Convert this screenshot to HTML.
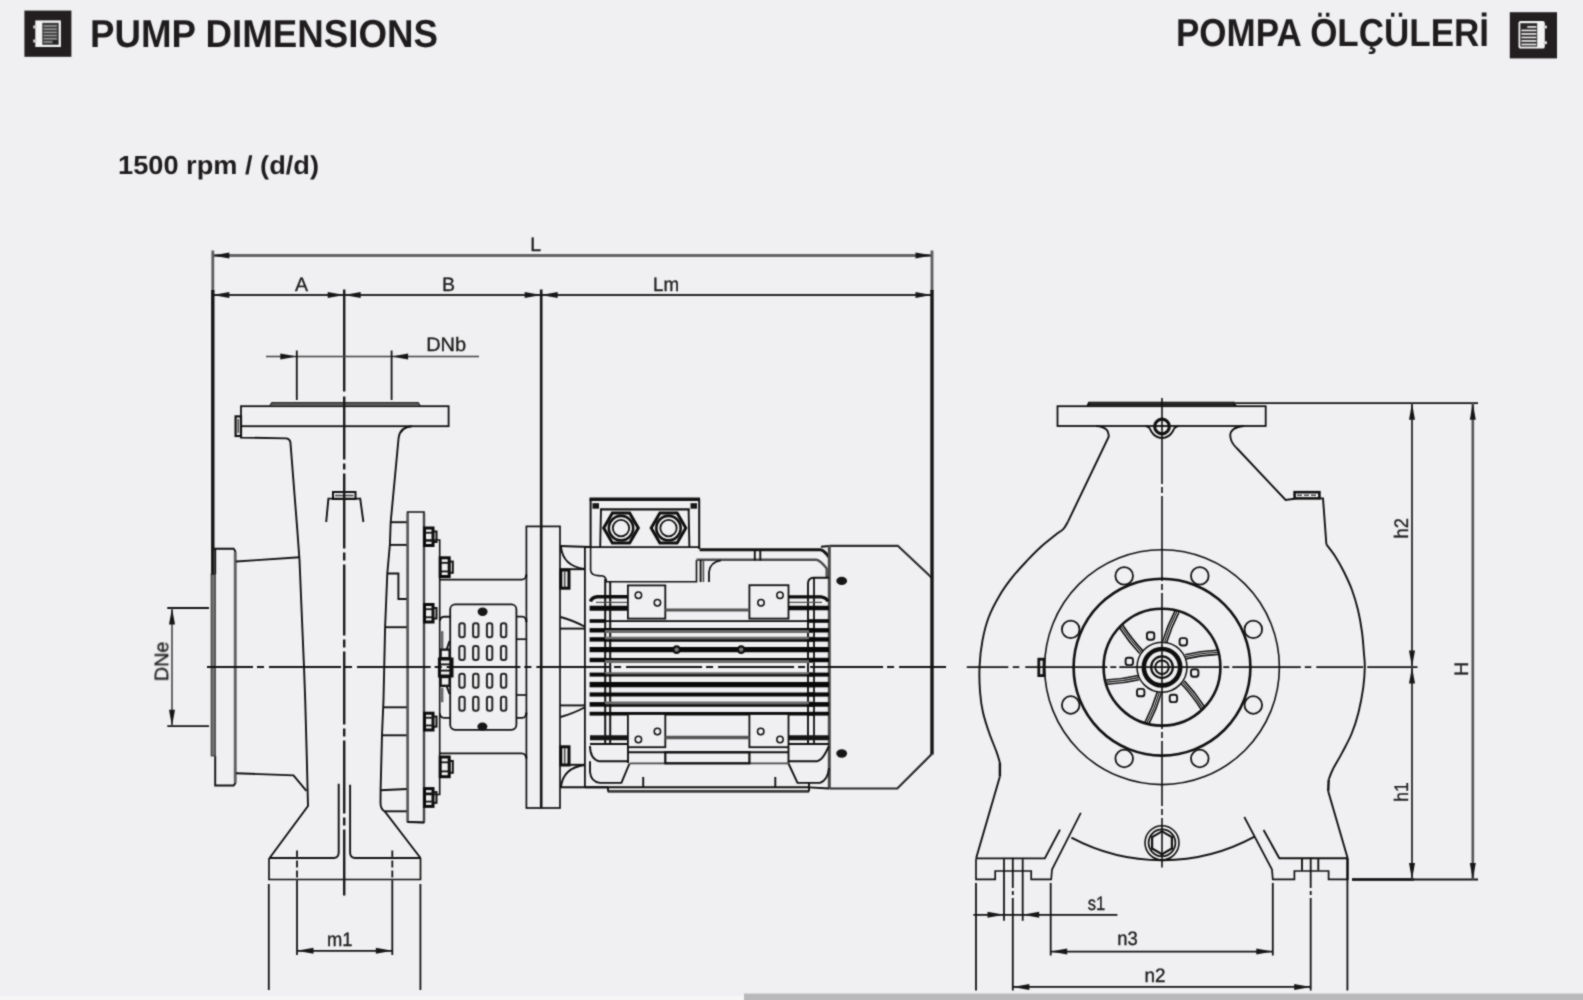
<!DOCTYPE html>
<html><head><meta charset="utf-8"><title>Pump Dimensions</title>
<style>
html,body{margin:0;padding:0;background:#f0f0f2;}
body{width:1583px;height:1000px;overflow:hidden;font-family:"Liberation Sans",sans-serif;}
svg{display:block;position:absolute;left:0;top:0;}
text{font-family:"Liberation Sans",sans-serif;fill:#1d1d1f;-webkit-font-smoothing:antialiased;text-rendering:geometricPrecision;}
.ttl{font-size:39px;font-weight:bold;fill:#1f1c1d;}
.sub{font-size:26px;font-weight:bold;fill:#1f1c1d;}
.lb{font-size:19.5px;fill:#1e1e1e;stroke:#1e1e1e;stroke-width:0.35;}
.t{fill:none;stroke:#101010;stroke-width:1.9;}
.g{fill:none;stroke:#4a4a4a;stroke-width:1.6;}
.g2{fill:none;stroke:#6a6a6a;stroke-width:2.6;}
.k{fill:none;stroke:#141414;stroke-width:2.8;}
.k2{fill:none;stroke:#141414;stroke-width:2.2;}
.d{fill:none;stroke:#121212;stroke-width:1.8;}
.cl{fill:none;stroke:#121212;stroke-width:1.8;}
.f{fill:#161616;stroke:none;}
</style></head>
<body>
<svg width="1583" height="1000" viewBox="0 0 1583 1000">
<defs><filter id="id0" x="0" y="0" width="100%" height="100%" filterUnits="userSpaceOnUse" color-interpolation-filters="sRGB"><feConvolveMatrix order="3" kernelMatrix="1 2 1 2 10 2 1 2 1" divisor="22" edgeMode="duplicate" preserveAlpha="false"/></filter></defs>
<g filter="url(#id0)"><rect x="24.4" y="10.6" width="47" height="46.2" fill="#231f20"/>
<rect x="35.3" y="20.4" width="25.6" height="26.6" fill="#f4f4f4"/>
<rect x="42.3" y="22.8" width="16.4" height="22" fill="#3c3a3b"/>
<rect x="43.6" y="25.2" width="13.2" height="1.5" fill="#9a9a9a"/>
<rect x="43.6" y="28.4" width="13.2" height="1.5" fill="#9a9a9a"/>
<rect x="43.6" y="31.6" width="13.2" height="1.5" fill="#9a9a9a"/>
<rect x="43.6" y="34.8" width="13.2" height="1.5" fill="#9a9a9a"/>
<rect x="43.6" y="38.0" width="13.2" height="1.5" fill="#9a9a9a"/>
<rect x="43.6" y="41.2" width="13.2" height="1.5" fill="#9a9a9a"/>
<rect x="52.5" y="40.3" width="5.5" height="3.6" fill="#222"/>
<rect x="33.2" y="25.5" width="3.4" height="3" fill="#d0d0d0"/>
<rect x="33.2" y="39.5" width="3.4" height="3" fill="#d0d0d0"/>
<rect x="1509.8" y="12.2" width="47.2" height="46.2" fill="#231f20"/>
<rect x="1518.5" y="21" width="26.3" height="27.6" rx="2.2" fill="#f4f4f4"/>
<rect x="1520.3" y="23.2" width="16.9" height="23.4" fill="#2b2829"/>
<rect x="1527.3" y="26.1" width="9.1" height="1.7" fill="#ececec"/>
<rect x="1521.4" y="29.6" width="15.0" height="1.7" fill="#ececec"/>
<rect x="1521.4" y="33.1" width="15.0" height="1.7" fill="#ececec"/>
<rect x="1521.4" y="36.6" width="15.0" height="1.7" fill="#ececec"/>
<rect x="1521.4" y="40.1" width="15.0" height="1.7" fill="#ececec"/>
<rect x="1521.4" y="43.6" width="15.0" height="1.7" fill="#ececec"/>
<rect x="1543.4" y="25.6" width="3.6" height="2.8" fill="#d8d8d8"/>
<rect x="1543.4" y="41.3" width="3.6" height="2.8" fill="#d8d8d8"/>
<text x="90" y="47.2" class="ttl" textLength="348" lengthAdjust="spacingAndGlyphs">PUMP DIMENSIONS</text>
<text x="1176" y="46" class="ttl" textLength="313" lengthAdjust="spacingAndGlyphs">POMPA ÖLÇÜLERİ</text>
<text x="118" y="174.3" class="sub" textLength="201" lengthAdjust="spacingAndGlyphs">1500 rpm / (d/d)</text>
<rect x="744" y="993.5" width="839" height="6.5" fill="#b9b9bb"/>
<rect x="0" y="996" width="744" height="4" fill="#f6f6f7"/></g>
<g id="pump" filter="url(#id0)"><rect x="241" y="406.2" width="207.6" height="20" class="t" style="stroke-width:1.8"/>
<path d="M270,406 L272,402.8 L418,402.8 L420,406" class="t" style="stroke-width:1.8;stroke:#2a2a2a"/>
<line x1="271" y1="404.6" x2="419" y2="404.6" class="g" style="stroke-width:1.6;stroke:#555"/>
<rect x="235.6" y="416.4" width="5.4" height="19.6" class="t" style="stroke-width:2.2"/>
<line x1="238.3" y1="419" x2="238.3" y2="433" class="g" />
<path d="M241,426.2 L241,437.6 L286,438.4 Q289.5,438.6 290.4,442" class="t" />
<path d="M290.4,442 L297.3,530 L299.5,560 L302,620 L304,667 L305.2,700 L306.6,750 L308,806 L269.6,858" class="t" />
<path d="M412,426.2 Q400,427 398.6,438 L390.7,522 L389.9,544.5 L387.3,573.5 L385.1,627 L383.5,700 L382,735 L380.6,790 L380.5,803 Q380.6,809 384.8,811.5 L420.5,858" class="t" />
<rect x="333" y="492" width="22.5" height="7" class="t" style="stroke-width:2"/>
<line x1="335" y1="495.5" x2="353.5" y2="495.5" class="g" />
<path d="M326.2,522 L328.4,498.6 L360.2,498.6 L363.4,522" class="t" />
<path d="M213,548.8 L233.6,548.8 L235.2,551 L235.2,783.4 L233.6,785.5 L215.2,785.5 L215.2,755.7" class="t" />
<line x1="235.2" y1="552" x2="235.2" y2="783" class="g2" style="stroke-width:2.8;stroke:#606060"/>
<rect x="211.4" y="574.3" width="3.8" height="181.4" class="t" style="stroke-width:1.5;stroke:#4a4a4a;fill:#777"/>
<line x1="215.2" y1="549" x2="215.2" y2="574" class="t" />
<line x1="236" y1="561.5" x2="299.5" y2="557.3" class="t" />
<path d="M236,773.2 L293.5,775.4 L306.4,790.8" class="t" />
<path d="M269,858 L333.5,858 Q338.7,858 338.7,852.5 L338.7,783.8" class="t" />
<path d="M420.5,858 L355.3,858 Q350.1,858 350.1,852.5 L350.1,784.7" class="t" />
<path d="M269,858 L269,879.5 L420.5,879.5 L420.5,858" class="t" style="stroke-width:1.7"/>
<line x1="390.7" y1="522.2" x2="407" y2="522.2" class="t" />
<line x1="389.9" y1="544.9" x2="407" y2="544.9" class="t" />
<line x1="385.1" y1="627.2" x2="407" y2="627.2" class="t" />
<line x1="383.3" y1="707.3" x2="407" y2="707.3" class="t" />
<line x1="382" y1="735.3" x2="407" y2="735.3" class="t" />
<line x1="384.6" y1="811.3" x2="407" y2="811.3" class="t" />
<line x1="380.6" y1="790.2" x2="407" y2="789" class="t" />
<path d="M387.3,573.5 L398.4,573.5 L398.4,599 L407,599" class="t" />
<path d="M407.6,822 L407.6,512 L424,512 L424,822.5 Z" class="t" style="stroke-width:1.6"/>
<line x1="407.6" y1="513" x2="407.6" y2="822" class="g2" style="stroke:#555;stroke-width:2.4"/>
<line x1="424" y1="513" x2="424" y2="822" class="g2" style="stroke:#444;stroke-width:2.4"/>
<path d="M407.6,822 L424,822.5" class="t" />
<path d="M424,540 L439.7,540 L439.7,794.5 L424,794.5" class="t" style="stroke-width:1.6"/>
<rect x="424.5" y="528" width="8.5" height="17.5" class="t" style="stroke-width:3;stroke:#0a0a0a"/><line x1="424.5" y1="532.725" x2="433.0" y2="532.725" class="t" style="stroke-width:1.8"/><line x1="424.5" y1="540.775" x2="433.0" y2="540.775" class="t" style="stroke-width:1.8"/><rect x="433.0" y="531.5" width="3.5" height="10.5" class="t" style="stroke-width:2"/>
<rect x="424.5" y="604.5" width="8.5" height="17.5" class="t" style="stroke-width:3;stroke:#0a0a0a"/><line x1="424.5" y1="609.225" x2="433.0" y2="609.225" class="t" style="stroke-width:1.8"/><line x1="424.5" y1="617.275" x2="433.0" y2="617.275" class="t" style="stroke-width:1.8"/><rect x="433.0" y="608.0" width="3.5" height="10.5" class="t" style="stroke-width:2"/>
<rect x="424.5" y="713.2" width="8.5" height="16.799999999999955" class="t" style="stroke-width:3;stroke:#0a0a0a"/><line x1="424.5" y1="717.736" x2="433.0" y2="717.736" class="t" style="stroke-width:1.8"/><line x1="424.5" y1="725.464" x2="433.0" y2="725.464" class="t" style="stroke-width:1.8"/><rect x="433.0" y="716.5600000000001" width="3.5" height="10.079999999999972" class="t" style="stroke-width:2"/>
<rect x="424.5" y="788.6" width="8.5" height="17.799999999999955" class="t" style="stroke-width:3;stroke:#0a0a0a"/><line x1="424.5" y1="793.4060000000001" x2="433.0" y2="793.4060000000001" class="t" style="stroke-width:1.8"/><line x1="424.5" y1="801.5939999999999" x2="433.0" y2="801.5939999999999" class="t" style="stroke-width:1.8"/><rect x="433.0" y="792.16" width="3.5" height="10.679999999999973" class="t" style="stroke-width:2"/>
<rect x="440.2" y="557.8" width="9" height="18.700000000000045" class="t" style="stroke-width:3;stroke:#0a0a0a"/><line x1="440.2" y1="562.8489999999999" x2="449.2" y2="562.8489999999999" class="t" style="stroke-width:1.8"/><line x1="440.2" y1="571.451" x2="449.2" y2="571.451" class="t" style="stroke-width:1.8"/><rect x="449.2" y="561.54" width="3.6" height="11.220000000000027" class="t" style="stroke-width:2"/>
<rect x="440.2" y="757" width="9" height="19.700000000000045" class="t" style="stroke-width:3;stroke:#0a0a0a"/><line x1="440.2" y1="762.319" x2="449.2" y2="762.319" class="t" style="stroke-width:1.8"/><line x1="440.2" y1="771.3810000000001" x2="449.2" y2="771.3810000000001" class="t" style="stroke-width:1.8"/><rect x="449.2" y="760.94" width="3.6" height="11.820000000000027" class="t" style="stroke-width:2"/>
<path d="M439.7,579.6 L521.5,579.6 Q526.2,579.4 526.4,574.5" class="t" style="stroke-width:1.7"/>
<path d="M439.7,753.4 L521.5,753.4 Q526.2,753.6 526.4,758.5" class="t" style="stroke-width:1.7"/>
<rect x="450.2" y="604.4" width="66.2" height="125.4" rx="5" ry="5" class="t" style="stroke-width:1.8"/>
<rect x="459.3" y="623.2" width="5.4" height="14" rx="2.2" ry="2.2" class="t" style="stroke-width:2;stroke:#222"/>
<rect x="473.1" y="623.2" width="5.4" height="14" rx="2.2" ry="2.2" class="t" style="stroke-width:2;stroke:#222"/>
<rect x="486.9" y="623.2" width="5.4" height="14" rx="2.2" ry="2.2" class="t" style="stroke-width:2;stroke:#222"/>
<rect x="500.9" y="623.2" width="5.4" height="14" rx="2.2" ry="2.2" class="t" style="stroke-width:2;stroke:#222"/>
<rect x="459.3" y="646.0" width="5.4" height="14" rx="2.2" ry="2.2" class="t" style="stroke-width:2;stroke:#222"/>
<rect x="473.1" y="646.0" width="5.4" height="14" rx="2.2" ry="2.2" class="t" style="stroke-width:2;stroke:#222"/>
<rect x="486.9" y="646.0" width="5.4" height="14" rx="2.2" ry="2.2" class="t" style="stroke-width:2;stroke:#222"/>
<rect x="500.9" y="646.0" width="5.4" height="14" rx="2.2" ry="2.2" class="t" style="stroke-width:2;stroke:#222"/>
<rect x="459.3" y="673.8" width="5.4" height="14" rx="2.2" ry="2.2" class="t" style="stroke-width:2;stroke:#222"/>
<rect x="473.1" y="673.8" width="5.4" height="14" rx="2.2" ry="2.2" class="t" style="stroke-width:2;stroke:#222"/>
<rect x="486.9" y="673.8" width="5.4" height="14" rx="2.2" ry="2.2" class="t" style="stroke-width:2;stroke:#222"/>
<rect x="500.9" y="673.8" width="5.4" height="14" rx="2.2" ry="2.2" class="t" style="stroke-width:2;stroke:#222"/>
<rect x="459.3" y="696.7" width="5.4" height="14" rx="2.2" ry="2.2" class="t" style="stroke-width:2;stroke:#222"/>
<rect x="473.1" y="696.7" width="5.4" height="14" rx="2.2" ry="2.2" class="t" style="stroke-width:2;stroke:#222"/>
<rect x="486.9" y="696.7" width="5.4" height="14" rx="2.2" ry="2.2" class="t" style="stroke-width:2;stroke:#222"/>
<rect x="500.9" y="696.7" width="5.4" height="14" rx="2.2" ry="2.2" class="t" style="stroke-width:2;stroke:#222"/>
<ellipse cx="482.6" cy="611.7" rx="5" ry="4.2" class="f"/>
<ellipse cx="482.4" cy="726.6" rx="5" ry="4.2" class="f"/>
<path d="M439.8,621 Q440,617 444,616.7 L450.2,616.7" class="t" />
<path d="M439.8,713.5 Q440,717.6 444,717.9 L450.2,717.9" class="t" />
<line x1="442.2" y1="631.2" x2="442.2" y2="648.6" class="g2" style="stroke:#666;stroke-width:2.4"/>
<line x1="442.2" y1="687.8" x2="442.2" y2="702.2" class="g2" style="stroke:#666;stroke-width:2.4"/>
<line x1="449.5" y1="641" x2="446.8" y2="649" class="t" />
<line x1="446.8" y1="686.5" x2="449.5" y2="694" class="t" />
<rect x="440.6" y="649.6" width="9" height="8.6" class="t" style="stroke-width:2.4;stroke:#151515"/>
<rect x="440.6" y="677" width="9" height="8.8" class="t" style="stroke-width:2.4;stroke:#151515"/>
<rect x="439.4" y="659" width="12.6" height="17" class="t" style="stroke-width:3;stroke:#0e0e0e"/>
<line x1="439.4" y1="664.4" x2="452" y2="664.4" class="t" />
<line x1="439.4" y1="670.6" x2="452" y2="670.6" class="t" />
<path d="M516.4,616.7 L522,616.7 Q526.4,617 526.4,622" class="t" style="stroke-width:1.7"/>
<line x1="516.4" y1="639.2" x2="526.4" y2="639.2" class="t" style="stroke-width:1.7"/>
<line x1="516.4" y1="695" x2="526.4" y2="695" class="t" style="stroke-width:1.7"/>
<path d="M516.4,717.9 L522,717.9 Q526.4,717.6 526.4,712.5" class="t" style="stroke-width:1.7"/></g>
<g id="motor" filter="url(#id0)"><rect x="526.4" y="526.4" width="33.6" height="281.6" class="t" style="stroke-width:1.7"/>
<line x1="560" y1="546" x2="590" y2="547" class="t" />
<path d="M561,547 Q563,566 584.5,569" class="t" />
<line x1="560" y1="569.2" x2="584.9" y2="569.2" class="t" />
<rect x="560.8" y="570" width="8.2" height="18.2" class="t" style="stroke-width:3;stroke:#0c0c0c"/>
<line x1="564.7" y1="571" x2="564.7" y2="587" class="g" />
<path d="M560.5,617 Q572,620 584.5,626.5" class="t" />
<line x1="560" y1="628.6" x2="584.9" y2="628.6" class="t" />
<path d="M560.5,717 Q572,714 584.5,707.5" class="t" />
<line x1="560" y1="705.4" x2="584.9" y2="705.4" class="t" />
<rect x="560.8" y="746.8" width="8.2" height="18.2" class="t" style="stroke-width:3;stroke:#0c0c0c"/>
<line x1="564.7" y1="748" x2="564.7" y2="764" class="g" />
<line x1="560" y1="764.8" x2="584.9" y2="764.8" class="t" />
<path d="M561,787 Q563,768 584.5,765" class="t" />
<line x1="560" y1="787.3" x2="608" y2="787.3" class="t" />
<line x1="584.9" y1="547.2" x2="584.9" y2="787.3" class="t" style="stroke-width:1.8"/>
<line x1="589.5" y1="499.2" x2="700" y2="499.2" class="k" style="stroke-width:3.4"/>
<line x1="590.6" y1="499" x2="590.6" y2="547" class="t" style="stroke-width:2"/>
<line x1="699.2" y1="499" x2="699.2" y2="549" class="t" style="stroke-width:2"/>
<line x1="600" y1="509.4" x2="689.6" y2="509.4" class="k" style="stroke-width:2.4"/>
<line x1="601" y1="509" x2="600.2" y2="547" class="t" />
<line x1="688.6" y1="509" x2="689.4" y2="547" class="t" />
<rect x="592.5" y="503.2" width="6.5" height="5.5" class="f" />
<rect x="690.5" y="503.2" width="6.5" height="5.5" class="f" />
<line x1="584" y1="547.2" x2="699.6" y2="547.2" class="t" style="stroke-width:1.8"/>
<polygon points="638.3,528.1 629.6,543.1 612.4,543.1 603.7,528.1 612.4,513.1 629.6,513.1" class="t" style="stroke-width:3;stroke:#0e0e0e"/>
<circle cx="621" cy="528.1" r="12.2" class="t" style="stroke-width:2.6"/>
<circle cx="621" cy="528.1" r="8.2" class="t" style="stroke-width:1.8"/>
<polygon points="685.8,528.1 677.1,543.1 659.9,543.1 651.2,528.1 659.9,513.1 677.1,513.1" class="t" style="stroke-width:3;stroke:#0e0e0e"/>
<circle cx="668.5" cy="528.1" r="12.2" class="t" style="stroke-width:2.6"/>
<circle cx="668.5" cy="528.1" r="8.2" class="t" style="stroke-width:1.8"/>
<path d="M590.6,547 L590.6,570 Q591,575.4 598,575.6 L603,576 Q606,577 606.5,581.8 L696.5,581.8 L696.5,560" class="t" style="stroke-width:1.6"/>
<path d="M699.6,549.7 L820.5,549.7 Q824,550.2 829,557" class="k" style="stroke-width:3"/>
<path d="M696.5,559.8 L816.5,559.8 Q820,560.2 826.7,568.5 L826.7,578" class="g2" style="stroke:#4d4d4d;stroke-width:2.4"/>
<line x1="700.6" y1="560" x2="700.6" y2="582" class="t" />
<line x1="703.4" y1="560" x2="703.4" y2="582" class="g" />
<path d="M709,582 L709,572 Q710,562 721,560.4" class="t" style="stroke-width:1.8"/>
<line x1="754.8" y1="549.7" x2="754.8" y2="560.6" class="t" />
<line x1="760.3" y1="549.7" x2="760.3" y2="560.6" class="t" />
<path d="M829.3,546 L821,546.8" class="t" />
<path d="M829.3,545.8 L897.8,545.8 L931.8,577.8" class="t" style="stroke-width:2.2;stroke:#2a2a2a"/>
<path d="M931.8,754 L897.3,788.5 L829.3,788.5" class="t" style="stroke-width:2.2;stroke:#2a2a2a"/>
<line x1="829.3" y1="545.8" x2="829.3" y2="788.5" class="g2" style="stroke:#4a4a4a;stroke-width:3"/>
<ellipse cx="841.7" cy="580.9" rx="5.4" ry="4.2" class="f"/>
<ellipse cx="841.7" cy="753.5" rx="5.4" ry="4.2" class="f"/>
<line x1="605.2" y1="579" x2="605.2" y2="745" class="t" style="stroke-width:2"/>
<line x1="610.2" y1="582" x2="610.2" y2="745" class="t" style="stroke-width:2"/>
<path d="M808,745 L808,583 Q808.4,578 813.5,577.8 L829,577.8" class="t" />
<line x1="814" y1="578" x2="814" y2="745" class="t" style="stroke-width:1.8"/>
<line x1="604" y1="621.05" x2="814" y2="621.05" class="t" style="stroke:#090909;stroke-width:1.7"/>
<line x1="604" y1="629" x2="814" y2="629" class="t" style="stroke:#090909;stroke-width:2.1"/>
<line x1="604" y1="631.6" x2="814" y2="631.6" class="t" style="stroke:#6a6a6a;stroke-width:3"/>
<line x1="604" y1="638.1" x2="814" y2="638.1" class="t" style="stroke:#6a6a6a;stroke-width:2.6"/>
<line x1="604" y1="640.5" x2="814" y2="640.5" class="t" style="stroke:#090909;stroke-width:2.3"/>
<line x1="604" y1="649.6" x2="814" y2="649.6" class="t" style="stroke:#090909;stroke-width:5.2"/>
<line x1="604" y1="659" x2="814" y2="659" class="t" style="stroke:#090909;stroke-width:2.1"/>
<line x1="604" y1="661.5" x2="814" y2="661.5" class="t" style="stroke:#6a6a6a;stroke-width:3"/>
<line x1="604" y1="673.4" x2="814" y2="673.4" class="t" style="stroke:#6a6a6a;stroke-width:2.1"/>
<line x1="604" y1="675.4" x2="814" y2="675.4" class="t" style="stroke:#090909;stroke-width:2.1"/>
<line x1="604" y1="684.6" x2="814" y2="684.6" class="t" style="stroke:#090909;stroke-width:5.4"/>
<line x1="604" y1="694.5" x2="814" y2="694.5" class="t" style="stroke:#090909;stroke-width:4"/>
<line x1="604" y1="703" x2="814" y2="703" class="t" style="stroke:#6a6a6a;stroke-width:2.8"/>
<line x1="604" y1="705.5" x2="814" y2="705.5" class="t" style="stroke:#090909;stroke-width:2.3"/>
<line x1="604" y1="713.7" x2="814" y2="713.7" class="t" style="stroke:#090909;stroke-width:3.6"/>
<line x1="589.6" y1="621" x2="605" y2="621" class="t" style="stroke:#080808;stroke-width:3.6"/>
<line x1="809" y1="621" x2="829" y2="621" class="t" style="stroke:#080808;stroke-width:3.6"/>
<line x1="589.6" y1="630.3" x2="605" y2="630.3" class="t" style="stroke:#080808;stroke-width:4.4"/>
<line x1="809" y1="630.3" x2="829" y2="630.3" class="t" style="stroke:#080808;stroke-width:4.4"/>
<line x1="589.6" y1="639.4" x2="605" y2="639.4" class="t" style="stroke:#080808;stroke-width:4.4"/>
<line x1="809" y1="639.4" x2="829" y2="639.4" class="t" style="stroke:#080808;stroke-width:4.4"/>
<line x1="589.6" y1="649.6" x2="605" y2="649.6" class="t" style="stroke:#080808;stroke-width:5.2"/>
<line x1="809" y1="649.6" x2="829" y2="649.6" class="t" style="stroke:#080808;stroke-width:5.2"/>
<line x1="589.6" y1="660" x2="605" y2="660" class="t" style="stroke:#080808;stroke-width:4.4"/>
<line x1="809" y1="660" x2="829" y2="660" class="t" style="stroke:#080808;stroke-width:4.4"/>
<line x1="589.6" y1="674.6" x2="605" y2="674.6" class="t" style="stroke:#080808;stroke-width:4"/>
<line x1="809" y1="674.6" x2="829" y2="674.6" class="t" style="stroke:#080808;stroke-width:4"/>
<line x1="589.6" y1="684.6" x2="605" y2="684.6" class="t" style="stroke:#080808;stroke-width:5.4"/>
<line x1="809" y1="684.6" x2="829" y2="684.6" class="t" style="stroke:#080808;stroke-width:5.4"/>
<line x1="589.6" y1="694.5" x2="605" y2="694.5" class="t" style="stroke:#080808;stroke-width:4.2"/>
<line x1="809" y1="694.5" x2="829" y2="694.5" class="t" style="stroke:#080808;stroke-width:4.2"/>
<line x1="589.6" y1="704.4" x2="605" y2="704.4" class="t" style="stroke:#080808;stroke-width:4.6"/>
<line x1="809" y1="704.4" x2="829" y2="704.4" class="t" style="stroke:#080808;stroke-width:4.6"/>
<line x1="589.6" y1="713.7" x2="605" y2="713.7" class="t" style="stroke:#080808;stroke-width:3.8"/>
<line x1="809" y1="713.7" x2="829" y2="713.7" class="t" style="stroke:#080808;stroke-width:3.8"/>
<circle cx="676.6" cy="649.6" r="3.3" class="t" style="fill:#777;stroke-width:2.2;stroke:#0c0c0c"/>
<circle cx="741.2" cy="649.6" r="3.3" class="t" style="fill:#777;stroke-width:2.2;stroke:#0c0c0c"/>
<path d="M628,596.8 L597,596.8 Q591.5,597.5 590.5,601.5" class="t" style="stroke-width:3.4;stroke:#0c0c0c"/>
<line x1="596" y1="602.4" x2="628" y2="602.4" class="g" style="stroke-width:1.2"/>
<line x1="589.6" y1="608.3" x2="628" y2="608.3" class="k" style="stroke-width:5;stroke:#0a0a0a"/>
<path d="M788.5,596.8 L821,596.8 Q826.5,597.5 828,601.5" class="t" style="stroke-width:3.2;stroke:#0c0c0c"/>
<line x1="788.5" y1="602.4" x2="822" y2="602.4" class="g" style="stroke-width:1.2"/>
<line x1="788.5" y1="608" x2="829" y2="608" class="k" style="stroke-width:4.6;stroke:#0a0a0a"/>
<line x1="590" y1="737.7" x2="628" y2="737.7" class="k" style="stroke-width:5"/>
<line x1="590" y1="744" x2="628" y2="744" class="t" />
<line x1="788.5" y1="737.7" x2="829" y2="737.7" class="k" style="stroke-width:5"/>
<line x1="788.5" y1="744" x2="829" y2="744" class="t" />
<rect x="627.9" y="585.4" width="37.4" height="33.2" class="t" style="fill:#f0f0f2;stroke-width:1.8"/>
<rect x="749.4" y="585.2" width="39.1" height="33.4" class="t" style="fill:#f0f0f2;stroke-width:1.8"/>
<rect x="627.9" y="714" width="37.4" height="33.2" class="t" style="fill:#f0f0f2;stroke-width:1.8"/>
<rect x="749.4" y="714" width="39.1" height="33.2" class="t" style="fill:#f0f0f2;stroke-width:1.8"/>
<circle cx="638.4" cy="595.3" r="3.2" class="t" style="stroke-width:1.5"/>
<circle cx="657.4" cy="602.7" r="3.2" class="t" style="stroke-width:1.5"/>
<circle cx="761" cy="602.8" r="3.2" class="t" style="stroke-width:1.5"/>
<circle cx="780" cy="595.2" r="3.2" class="t" style="stroke-width:1.5"/>
<circle cx="657.4" cy="731.5" r="3.2" class="t" style="stroke-width:1.5"/>
<circle cx="638.4" cy="739.5" r="3.2" class="t" style="stroke-width:1.5"/>
<circle cx="760.7" cy="731.5" r="3.2" class="t" style="stroke-width:1.5"/>
<circle cx="780" cy="739.5" r="3.2" class="t" style="stroke-width:1.5"/>
<line x1="665.3" y1="610" x2="749.4" y2="610" class="g2" style="stroke:#555;stroke-width:3"/>
<line x1="665.3" y1="737.5" x2="749.4" y2="737.5" class="g2" style="stroke:#555;stroke-width:3.6"/>
<line x1="628" y1="752.3" x2="788" y2="752.3" class="t" style="stroke-width:2"/>
<line x1="630" y1="763.3" x2="788" y2="763.3" class="g" style="stroke-width:1.8"/>
<rect x="665.3" y="752.3" width="84.1" height="11" class="t" style="stroke-width:2.2"/>
<path d="M590,746 Q590,759 599.3,761.3 L629,761.3" class="t" />
<path d="M590,761.3 L590,772 Q591,782 600,782.9 L621.4,782.9 L629.5,763.5" class="t" />
<path d="M829,746 L826,752 Q822,760 817,761.3 L788.5,761.3" class="t" />
<path d="M829,768 Q828,780 820,782.9 L797.5,782.9 L788.5,763.5" class="t" />
<line x1="628" y1="748" x2="628" y2="763" class="t" />
<line x1="788.5" y1="748" x2="788.5" y2="763" class="t" />
<line x1="584.9" y1="787.2" x2="809" y2="787.2" class="t" />
<line x1="607.8" y1="791.4" x2="809" y2="791.4" class="g" style="stroke-width:2.6;stroke:#3a3a3a"/>
<line x1="608" y1="787" x2="608" y2="791.4" class="t" />
<line x1="809" y1="783" x2="809" y2="791.4" class="t" />
<line x1="643.2" y1="777" x2="643.2" y2="787" class="t" />
<line x1="775.3" y1="777" x2="775.3" y2="787" class="t" />
<line x1="809" y1="787.4" x2="829" y2="788.5" class="t" /></g>
<g id="end" filter="url(#id0)"><rect x="1057.5" y="406.2" width="208.2" height="19.8" class="t" style="stroke-width:1.8"/>
<path d="M1087.5,406 L1089,402.8 L1234,402.8 L1235.7,406" class="t" style="stroke-width:2"/>
<line x1="1088" y1="404.6" x2="1235" y2="404.6" class="t" style="stroke-width:1.8"/>
<circle cx="1162" cy="426.5" r="7.3" class="t" style="stroke-width:3.2;stroke:#101010"/>
<path d="M1145.5,426 Q1149.5,426.5 1151,431 Q1155,438 1162,438 Q1169,438 1173,431 Q1174.5,426.5 1178.5,426" class="t" />
<path d="M1096,426 Q1110,427 1108.6,437 L1068,521.6" class="t" />
<path d="M1068.0,521.6 C1067.2,522.8 1065.6,526.6 1063.5,528.8 C1061.4,531.0 1059.2,532.0 1055.4,535.0 C1051.7,538.0 1045.8,542.4 1041.0,546.8 C1036.2,551.2 1031.4,556.1 1026.6,561.2 C1021.8,566.3 1016.7,571.7 1012.2,577.4 C1007.7,583.1 1003.5,588.8 999.6,595.4 C995.7,602.0 991.6,609.5 988.8,617.0 C985.9,624.5 984.0,632.3 982.5,640.4 C981.0,648.5 980.0,657.1 979.6,665.6 C979.2,674.1 979.4,683.7 980.0,691.5 C980.6,699.3 981.4,705.5 983.0,712.5 C984.6,719.5 987.1,726.9 989.4,733.5 C991.7,740.1 995.0,747.5 996.7,752.4 C998.5,757.3 999.4,761.1 999.9,762.9" class="t" />
<path d="M999.9,762.9 L999.9,776.5" class="t" style="stroke-width:2.4"/>
<path d="M999.9,776.5 L976.2,858" class="t" />
<path d="M1244,426 Q1229,427.5 1230.4,437 Q1231,443 1237.6,449 L1285.6,500 L1294.6,498.8 M1319.3,498.4 L1323,498.4 L1326.4,544.4" class="t" />
<path d="M1326.4,544.4 C1327.8,546.3 1332.1,551.4 1335.0,556.0 C1337.9,560.6 1341.2,566.3 1344.0,572.0 C1346.8,577.7 1349.7,583.7 1352.0,590.0 C1354.3,596.3 1356.3,603.0 1358.0,610.0 C1359.7,617.0 1361.0,624.7 1362.0,632.0 C1363.0,639.3 1363.5,648.2 1364.0,654.0 C1364.5,659.8 1364.9,661.5 1364.8,667.0 C1364.7,672.5 1364.3,679.7 1363.3,687.3 C1362.2,694.9 1360.4,704.8 1358.5,712.5 C1356.6,720.2 1354.4,726.9 1351.7,733.5 C1349.0,740.1 1345.4,746.4 1342.3,752.4 C1339.2,758.4 1335.2,764.7 1332.9,769.2 C1330.6,773.7 1329.4,777.9 1328.7,779.6" class="t" />
<path d="M1328.7,779.6 L1328.2,791.2" class="t" style="stroke-width:2.4"/>
<path d="M1328.2,791.2 L1347.6,858" class="t" />
<rect x="1294.6" y="492.2" width="24.8" height="6.2" class="t" style="stroke-width:2.6;stroke:#111"/>
<line x1="1297" y1="495.2" x2="1317" y2="495.2" class="g" stroke-dasharray="5 2"/>
<circle cx="1162" cy="667.2" r="117.4" class="t" style="stroke-width:1.6"/>
<circle cx="1162" cy="667.2" r="88.4" class="t" style="stroke-width:2.6"/>
<circle cx="1162" cy="667.2" r="58.4" class="t" style="stroke-width:2.6"/>
<circle cx="1253.3" cy="629.4" r="8.8" class="t" style="stroke-width:1.8"/>
<circle cx="1199.8" cy="575.9" r="8.8" class="t" style="stroke-width:1.8"/>
<circle cx="1124.2" cy="575.9" r="8.8" class="t" style="stroke-width:1.8"/>
<circle cx="1070.7" cy="629.4" r="8.8" class="t" style="stroke-width:1.8"/>
<circle cx="1070.7" cy="705.0" r="8.8" class="t" style="stroke-width:1.8"/>
<circle cx="1124.2" cy="758.5" r="8.8" class="t" style="stroke-width:1.8"/>
<circle cx="1199.8" cy="758.5" r="8.8" class="t" style="stroke-width:1.8"/>
<circle cx="1253.3" cy="705.0" r="8.8" class="t" style="stroke-width:1.8"/>
<circle cx="1162" cy="667.2" r="25" class="t" style="stroke-width:1.5"/>
<circle cx="1162" cy="667.2" r="18.2" class="t" style="stroke-width:4.6;stroke:#0e0e0e"/>
<circle cx="1162" cy="667.2" r="10.8" class="t" style="stroke-width:2.2"/>
<circle cx="1162" cy="667.2" r="6.8" class="t" style="stroke-width:2"/>
<rect x="1179.6" y="638.1" width="7.4" height="7.4" rx="2.4" class="t" style="stroke-width:1.9"/>
<rect x="1146.9" y="632.3" width="7.4" height="7.4" rx="2.4" class="t" style="stroke-width:1.9"/>
<rect x="1125.6" y="657.7" width="7.4" height="7.4" rx="2.4" class="t" style="stroke-width:1.9"/>
<rect x="1137.0" y="688.9" width="7.4" height="7.4" rx="2.4" class="t" style="stroke-width:1.9"/>
<rect x="1169.7" y="694.7" width="7.4" height="7.4" rx="2.4" class="t" style="stroke-width:1.9"/>
<rect x="1191.0" y="669.3" width="7.4" height="7.4" rx="2.4" class="t" style="stroke-width:1.9"/>
<path d="M1185.0,654.7 Q1200.2,651.1 1217.3,650.2" class="t" style="stroke-width:1.6"/>
<path d="M1185.3,656.8 Q1200.5,653.2 1217.6,652.3" class="t" style="stroke-width:1.1"/>
<path d="M1185.6,658.9 Q1200.8,655.3 1217.9,654.4" class="t" style="stroke-width:1.6"/>
<path d="M1162.7,641.1 Q1167.2,626.0 1175.0,610.8" class="t" style="stroke-width:1.6"/>
<path d="M1164.7,641.8 Q1169.1,626.8 1176.9,611.6" class="t" style="stroke-width:1.1"/>
<path d="M1166.6,642.6 Q1171.1,627.6 1178.9,612.3" class="t" style="stroke-width:1.6"/>
<path d="M1139.7,653.5 Q1128.9,642.1 1119.6,627.8" class="t" style="stroke-width:1.6"/>
<path d="M1141.4,652.2 Q1130.6,640.8 1121.3,626.5" class="t" style="stroke-width:1.1"/>
<path d="M1143.0,650.9 Q1132.2,639.6 1122.9,625.2" class="t" style="stroke-width:1.6"/>
<path d="M1139.0,679.7 Q1123.8,683.3 1106.7,684.2" class="t" style="stroke-width:1.6"/>
<path d="M1138.7,677.6 Q1123.5,681.2 1106.4,682.1" class="t" style="stroke-width:1.1"/>
<path d="M1138.4,675.5 Q1123.2,679.1 1106.1,680.0" class="t" style="stroke-width:1.6"/>
<path d="M1161.3,693.3 Q1156.8,708.4 1149.0,723.6" class="t" style="stroke-width:1.6"/>
<path d="M1159.3,692.6 Q1154.9,707.6 1147.1,722.8" class="t" style="stroke-width:1.1"/>
<path d="M1157.4,691.8 Q1152.9,706.8 1145.1,722.1" class="t" style="stroke-width:1.6"/>
<path d="M1184.3,680.9 Q1195.1,692.3 1204.4,706.6" class="t" style="stroke-width:1.6"/>
<path d="M1182.6,682.2 Q1193.4,693.6 1202.7,707.9" class="t" style="stroke-width:1.1"/>
<path d="M1181.0,683.5 Q1191.8,694.8 1201.1,709.2" class="t" style="stroke-width:1.6"/>
<rect x="1038.8" y="659.2" width="5.2" height="16.4" class="t" style="stroke-width:2.8;stroke:#111"/>
<path d="M1071.4,837.6 A193,193 0 0 0 1254.1,836.8" class="t" />
<circle cx="1162" cy="842.8" r="17" class="t" style="stroke-width:1.6"/>
<circle cx="1162" cy="842.8" r="13.4" class="t" style="stroke-width:1.8"/>
<polygon points="1171.9,848.5 1162.0,854.2 1152.1,848.5 1152.1,837.1 1162.0,831.4 1171.9,837.1" class="t" style="stroke-width:2.2"/>
<path d="M976,858.4 L1044.8,858.4 L1060,829.6" class="t" />
<path d="M976,858.4 L976,879.4 L995.2,879.4 L995.2,871 L1031.2,871 L1031.2,879.4 L1051.2,879.4 L1052,869.6 L1080.8,812.8" class="t" style="stroke-width:1.7"/>
<path d="M1347.6,858.2 L1279.3,858.2 L1263.6,830" class="t" />
<path d="M1347.6,858.2 L1347.6,879.4 L1328.6,879.4 L1328.6,871 L1294.4,871 L1294.4,879.4 L1272.8,879.4 L1272,869.6 L1244.3,817" class="t" style="stroke-width:1.7"/>
<line x1="1302" y1="858" x2="1302" y2="870.5" class="t" />
<line x1="1318.3" y1="858" x2="1318.3" y2="870.5" class="t" /></g>
<g id="dims" filter="url(#id0)"><line x1="212.8" y1="255.5" x2="932" y2="255.5" class="g2" style="stroke-width:3;stroke:#646464"/>
<polygon class="f" points="212.8,255.4 229.3,252.4 229.3,258.4"/>
<polygon class="f" points="932.0,255.4 915.5,258.4 915.5,252.4"/>
<line x1="212.8" y1="295" x2="932" y2="295" class="d" style="stroke-width:2;stroke:#262626"/>
<polygon class="f" points="212.8,295.0 229.3,292.0 229.3,298.0"/>
<polygon class="f" points="344.2,295.0 327.7,298.0 327.7,292.0"/>
<polygon class="f" points="344.2,295.0 360.7,292.0 360.7,298.0"/>
<polygon class="f" points="541.2,295.0 524.7,298.0 524.7,292.0"/>
<polygon class="f" points="541.2,295.0 557.7,292.0 557.7,298.0"/>
<polygon class="f" points="932.0,295.0 915.5,298.0 915.5,292.0"/>
<line x1="212.8" y1="250.5" x2="212.8" y2="292" class="g" style="stroke-width:2.8;stroke:#5c5c5c"/>
<line x1="212.8" y1="290" x2="212.8" y2="574.5" class="k" style="stroke-width:3.4"/>
<line x1="932" y1="250.5" x2="932" y2="292" class="g" style="stroke-width:2.8;stroke:#5c5c5c"/>
<line x1="932" y1="290" x2="932" y2="754.5" class="k" style="stroke-width:3.4"/>
<line x1="541.2" y1="289.5" x2="541.2" y2="808" class="k" style="stroke-width:2.6"/>
<line x1="344.2" y1="289.5" x2="344.2" y2="895.5" class="cl" stroke-dasharray="102 5 63 4 6 4 75 4 8 4 71 4 8 4 73 4 8 4 73 4 8 4 70" style="stroke:#181818;stroke-width:2.4"/>
<line x1="207" y1="667" x2="946" y2="667" class="cl" stroke-dasharray="46 4 7 5 72 4 7 5 73.7 4 7 5 73.7 4 7 5 73.7 4 7 5 76 4 7 5 76 4 7 5 73 4 7 5 100"/>
<line x1="266" y1="356.5" x2="479" y2="356.5" class="g" style="stroke:#444;stroke-width:1.6"/>
<line x1="296.8" y1="350.5" x2="296.8" y2="400" class="d" />
<line x1="391.6" y1="350.5" x2="391.6" y2="400" class="d" />
<polygon class="f" points="296.8,356.5 280.3,359.5 280.3,353.5"/>
<polygon class="f" points="391.6,356.5 408.1,353.5 408.1,359.5"/>
<line x1="167.3" y1="608" x2="209" y2="608" class="d" />
<line x1="167.3" y1="726.2" x2="209" y2="726.2" class="d" />
<line x1="172" y1="608" x2="172" y2="726.2" class="g" style="stroke:#444;stroke-width:1.6"/>
<polygon class="f" points="172.0,608.0 175.0,624.5 169.0,624.5"/>
<polygon class="f" points="172.0,726.2 169.0,709.7 175.0,709.7"/>
<line x1="268.8" y1="884" x2="268.8" y2="990" class="d" />
<line x1="420.4" y1="884" x2="420.4" y2="990" class="d" />
<line x1="297" y1="850.5" x2="297" y2="880" class="d" stroke-dasharray="7 3"/>
<line x1="392.3" y1="850.5" x2="392.3" y2="880" class="d" stroke-dasharray="7 3"/>
<line x1="297" y1="880" x2="297" y2="955" class="d" />
<line x1="392.3" y1="880" x2="392.3" y2="955" class="d" />
<line x1="297" y1="950.8" x2="392.3" y2="950.8" class="d" />
<polygon class="f" points="297.0,950.8 313.5,947.8 313.5,953.8"/>
<polygon class="f" points="392.3,950.8 375.8,953.8 375.8,947.8"/>
<text class="lb" x="535.8" y="250.6" text-anchor="middle">L</text>
<text class="lb" x="301.4" y="290.5" text-anchor="middle">A</text>
<text class="lb" x="448.4" y="290.5" text-anchor="middle">B</text>
<text class="lb" x="666" y="290.5" text-anchor="middle" textLength="26" lengthAdjust="spacingAndGlyphs">Lm</text>
<text class="lb" x="446.2" y="351" text-anchor="middle" textLength="40" lengthAdjust="spacingAndGlyphs">DNb</text>
<text class="lb" transform="translate(168.2,661.4) rotate(-90)" text-anchor="middle" textLength="39.5" lengthAdjust="spacingAndGlyphs">DNe</text>
<text class="lb" x="339.8" y="946.4" text-anchor="middle" textLength="25.5" lengthAdjust="spacingAndGlyphs">m1</text>
<line x1="966.8" y1="667.2" x2="1417.5" y2="667.2" class="cl" stroke-dasharray="41.5 4.5 6.5 6 82 3 6 3 101 3 6 3 68.5 4 6.5 5 47 4 60"/>
<line x1="1162" y1="398" x2="1162" y2="867.4" class="cl" stroke-dasharray="86 3 6 3 85 3 6 3 136 3 6 3 65 3 6 3 60" style="stroke-width:1.6"/>
<line x1="1235" y1="403.2" x2="1478" y2="403.2" class="d" style="stroke-width:1.8"/>
<line x1="1352" y1="879.5" x2="1478" y2="879.5" class="d" style="stroke-width:1.9"/>
<line x1="1352" y1="879.5" x2="1414" y2="879.5" class="d" style="stroke-width:2.6"/>
<line x1="1412" y1="403.2" x2="1412" y2="879.6" class="d" style="stroke-width:2;stroke:#3c3c3c"/>
<line x1="1472.8" y1="403.2" x2="1472.8" y2="879.6" class="d" style="stroke-width:2.6;stroke:#555"/>
<polygon class="f" points="1412.0,403.2 1415.0,419.7 1409.0,419.7"/>
<polygon class="f" points="1412.0,667.0 1409.0,650.5 1415.0,650.5"/>
<polygon class="f" points="1412.0,667.0 1415.0,683.5 1409.0,683.5"/>
<polygon class="f" points="1412.0,879.6 1409.0,863.1 1415.0,863.1"/>
<polygon class="f" points="1472.8,403.2 1475.8,419.7 1469.8,419.7"/>
<polygon class="f" points="1472.8,879.6 1469.8,863.1 1475.8,863.1"/>
<text class="lb" transform="translate(1407.6,528.3) rotate(-90)" text-anchor="middle" textLength="20.5" lengthAdjust="spacingAndGlyphs">h2</text>
<text class="lb" transform="translate(1407.6,792) rotate(-90)" text-anchor="middle" textLength="19.5" lengthAdjust="spacingAndGlyphs">h1</text>
<text class="lb" transform="translate(1468.4,669) rotate(-90)" text-anchor="middle">H</text>
<line x1="973.4" y1="914.8" x2="1117.4" y2="914.8" class="d" />
<line x1="1004" y1="858.4" x2="1004" y2="920.8" class="d" />
<line x1="1022.7" y1="858.4" x2="1022.7" y2="920.8" class="d" />
<polygon class="f" points="1004.0,914.8 987.5,917.8 987.5,911.8"/>
<polygon class="f" points="1022.7,914.8 1039.2,911.8 1039.2,917.8"/>
<text class="lb" x="1096.4" y="909.6" text-anchor="middle" textLength="17.5" lengthAdjust="spacingAndGlyphs">s1</text>
<line x1="1050.7" y1="883" x2="1050.7" y2="955.5" class="d" />
<line x1="1272.8" y1="883" x2="1272.8" y2="955.5" class="d" />
<line x1="1050.7" y1="951.6" x2="1272.8" y2="951.6" class="d" />
<polygon class="f" points="1050.7,951.6 1067.2,948.6 1067.2,954.6"/>
<polygon class="f" points="1272.8,951.6 1256.3,954.6 1256.3,948.6"/>
<text class="lb" x="1127.6" y="945.4" text-anchor="middle" textLength="20.5" lengthAdjust="spacingAndGlyphs">n3</text>
<line x1="1012.8" y1="858" x2="1012.8" y2="990.5" class="d" stroke-dasharray="30 3 4 3 80 0"/>
<line x1="1310.7" y1="858" x2="1310.7" y2="990.5" class="d" stroke-dasharray="30 3 4 3 80 0"/>
<line x1="1012.8" y1="986.9" x2="1310.7" y2="986.9" class="d" />
<polygon class="f" points="1012.8,986.9 1029.3,983.9 1029.3,989.9"/>
<polygon class="f" points="1310.7,986.9 1294.2,989.9 1294.2,983.9"/>
<text class="lb" x="1155" y="982.3" text-anchor="middle" textLength="21" lengthAdjust="spacingAndGlyphs">n2</text>
<line x1="976" y1="883" x2="976" y2="990.5" class="d" />
<line x1="1347.4" y1="858" x2="1347.4" y2="990.5" class="d" /></g>
</svg>
</body></html>
